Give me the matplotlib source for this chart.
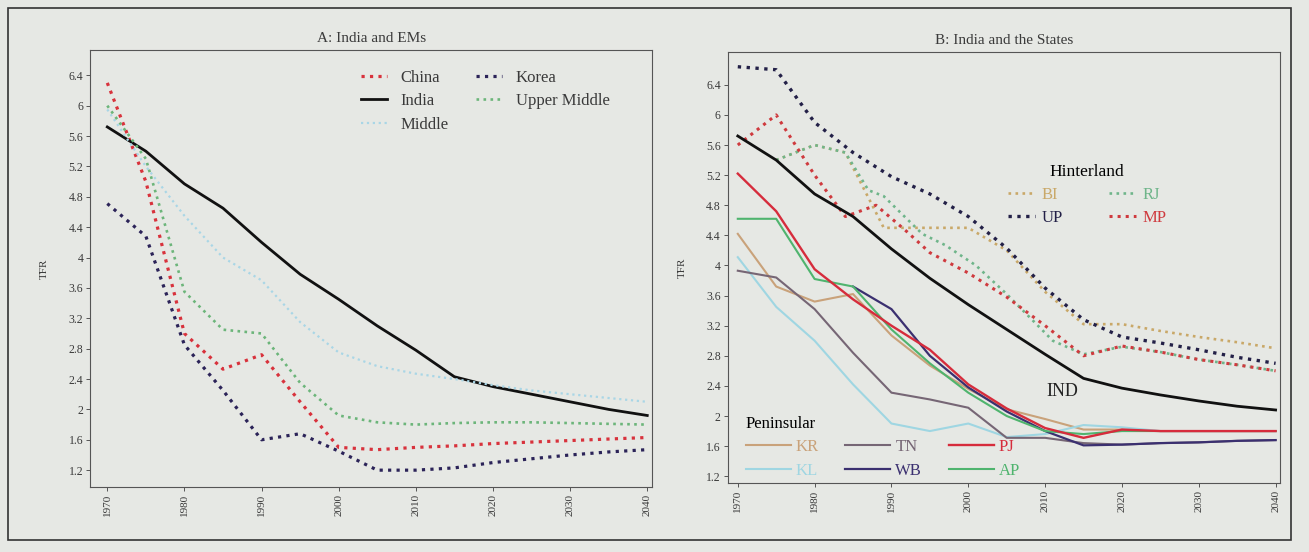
import matplotlib
matplotlib.use('Agg')
import matplotlib.pyplot as plt
from matplotlib.patches import Rectangle

plt.rcParams['font.family'] = ['Liberation Serif', 'DejaVu Serif']

# panel A: India and EMs
years_a = [1970, 1975, 1980, 1985, 1990, 1995, 2000, 2005, 2010, 2015, 2020, 2025, 2030, 2035, 2040]
india_a = [5.72, 5.40, 4.97, 4.65, 4.20, 3.78, 3.45, 3.10, 2.78, 2.43, 2.30, 2.20, 2.10, 2.00, 1.92]
china = [6.30, 5.00, 3.00, 2.53, 2.72, 2.10, 1.50, 1.47, 1.50, 1.52, 1.55, 1.57, 1.59, 1.61, 1.63]
korea = [4.71, 4.28, 2.85, 2.25, 1.60, 1.68, 1.45, 1.20, 1.20, 1.23, 1.30, 1.35, 1.40, 1.44, 1.47]
upper_middle = [6.00, 5.30, 3.55, 3.05, 3.00, 2.35, 1.92, 1.83, 1.80, 1.82, 1.83, 1.83, 1.82, 1.81, 1.80]
middle = [5.95, 5.20, 4.55, 4.00, 3.70, 3.15, 2.75, 2.57, 2.47, 2.40, 2.32, 2.25, 2.20, 2.15, 2.10]

# panel B: India and the states
years_b = [1970, 1975, 1980, 1985, 1990, 1995, 2000, 2005, 2010, 2015, 2020, 2025, 2030, 2035, 2040]
india_b = [5.72, 5.40, 4.95, 4.65, 4.22, 3.83, 3.48, 3.15, 2.82, 2.50, 2.37, 2.28, 2.20, 2.13, 2.08]

# hinterland (dotted)
up = [6.64, 6.60, 5.90, 5.50, 5.18, 4.95, 4.65, 4.23, 3.70, 3.28, 3.05, 2.97, 2.88, 2.78, 2.70]
mp_years = [1970, 1975, 1980, 1984, 1988, 1992, 1995, 2000, 2005, 2010, 2015, 2020, 2025, 2030, 2035, 2040]
mp = [5.60, 6.00, 5.20, 4.65, 4.80, 4.45, 4.17, 3.90, 3.58, 3.20, 2.80, 2.93, 2.85, 2.75, 2.68, 2.60]
bi_years = [1975, 1980, 1984, 1989, 1995, 2000, 2005, 2010, 2015, 2020, 2025, 2030, 2035, 2040]
bi = [5.40, 5.60, 5.50, 4.50, 4.50, 4.50, 4.20, 3.65, 3.22, 3.22, 3.13, 3.05, 2.98, 2.90]
rj_years = [1975, 1980, 1984, 1987, 1989, 1994, 1997, 2001, 2005, 2011, 2015, 2020, 2025, 2030, 2035, 2040]
rj = [5.40, 5.60, 5.50, 5.00, 4.92, 4.42, 4.27, 4.00, 3.62, 3.00, 2.82, 2.92, 2.85, 2.75, 2.68, 2.60]

# peninsular (solid)
kr = [4.42, 3.72, 3.52, 3.62, 3.07, 2.67, 2.36, 2.09, 1.96, 1.82, 1.82, 1.80, 1.80, 1.80, 1.80]
kl = [4.11, 3.45, 3.00, 2.42, 1.90, 1.80, 1.90, 1.72, 1.76, 1.88, 1.85, 1.80, 1.80, 1.80, 1.80]
tn = [3.93, 3.84, 3.42, 2.84, 2.31, 2.22, 2.11, 1.71, 1.71, 1.64, 1.62, 1.64, 1.65, 1.67, 1.68]
wb_years = [1985, 1990, 1995, 2000, 2005, 2010, 2015, 2020, 2025, 2030, 2035, 2040]
wb = [3.72, 3.42, 2.80, 2.38, 2.06, 1.80, 1.61, 1.62, 1.64, 1.65, 1.67, 1.68]
ap = [4.62, 4.62, 3.82, 3.72, 3.15, 2.70, 2.31, 2.00, 1.80, 1.76, 1.80, 1.80, 1.80, 1.80, 1.80]
pj = [5.22, 4.72, 3.95, 3.55, 3.20, 2.88, 2.42, 2.10, 1.84, 1.71, 1.82, 1.80, 1.80, 1.80, 1.80]

x_ticks = [1970, 1980, 1990, 2000, 2010, 2020, 2030, 2040]
y_ticks = [1.2, 1.6, 2.0, 2.4, 2.8, 3.2, 3.6, 4.0, 4.4, 4.8, 5.2, 5.6, 6.0, 6.4]

bg = '#e6e8e4'
ink = '#3a3a3a'
dot = ':'

fig = plt.figure(figsize=(13.09, 5.52), dpi=100, facecolor=bg)
fig.patches.append(Rectangle((0.006, 0.022), 0.98, 0.963, transform=fig.transFigure,
                             fill=False, edgecolor='#333333', lw=1.2))


def style_axes(ax, xlim, ylim):
	ax.set_facecolor(bg)
	ax.set_xlim(*xlim)
	ax.set_ylim(*ylim)
	ax.set_xticks(x_ticks)
	ax.set_xticklabels([str(v) for v in x_ticks], rotation=90, fontsize=8, color=ink)
	ax.set_yticks(y_ticks)
	ax.set_yticklabels(['%g' % v for v in y_ticks], fontsize=8.5, color=ink)
	ax.tick_params(length=3, width=0.7, color='#555555', pad=2)
	for s in ax.spines.values():
		s.set_color('#555555')
		s.set_linewidth(0.8)
	ax.set_ylabel('TFR', fontsize=8, color=ink, labelpad=14)


# ---- panel A
axA = fig.add_axes([0.069, 0.118, 0.429, 0.791])
style_axes(axA, (1967.8, 2040.6), (0.98, 6.73))
axA.plot(years_a, china, dot, color='#d8323c', lw=2.3, label='China')
axA.plot(years_a, india_a, '-', color='#111111', lw=2.0, label='India')
axA.plot(years_a, middle, dot, color='#a9d6e6', lw=1.6, label='Middle')
axA.plot(years_a, korea, dot, color='#2b2358', lw=2.3, label='Korea')
axA.plot(years_a, upper_middle, dot, color='#6cb57a', lw=1.9, label='Upper Middle')
axA.set_title('A: India and EMs', fontsize=11, color=ink, pad=6)
axA.legend(loc='upper left', bbox_to_anchor=(0.455, 0.99), ncol=2, frameon=False,
           fontsize=12, handlelength=1.6, columnspacing=1.6, labelspacing=0.45,
           labelcolor=ink)

# ---- panel B
axB = fig.add_axes([0.556, 0.125, 0.422, 0.78])
style_axes(axB, (1968.7, 2040.6), (1.11, 6.83))

hint = []
hint.append(axB.plot(bi_years, bi, dot, color='#c9a868', lw=1.9, label='BI')[0])
hint.append(axB.plot(years_b, up, dot, color='#232047', lw=2.4, label='UP')[0])
hint.append(axB.plot(rj_years, rj, dot, color='#6fb58a', lw=1.9, label='RJ')[0])
hint.append(axB.plot(mp_years, mp, dot, color='#cf3a3e', lw=2.2, label='MP')[0])

pen = []
pen.append(axB.plot(years_b, kr, '-', color='#c9a27a', lw=1.5, label='KR')[0])
pen.append(axB.plot(years_b, kl, '-', color='#9fd6e2', lw=1.5, label='KL')[0])
pen.append(axB.plot(years_b, tn, '-', color='#766675', lw=1.5, label='TN')[0])
pen.append(axB.plot(wb_years, wb, '-', color='#3b3070', lw=1.6, label='WB')[0])
pen.append(axB.plot(years_b, ap, '-', color='#4fb46e', lw=1.5, label='AP')[0])
pen.append(axB.plot(years_b, pj, '-', color='#d62c3c', lw=1.7, label='PJ')[0])
pen = [pen[0], pen[1], pen[2], pen[3], pen[5], pen[4]]

axB.plot(years_b, india_b, '-', color='#111111', lw=2.0)
axB.text(2010.2, 2.33, 'IND', fontsize=13, color='#222222', va='center')
axB.set_title('B: India and the States', fontsize=11, color=ink, pad=6)

legH = axB.legend(handles=hint, loc='upper left', bbox_to_anchor=(0.48, 0.775), ncol=2,
                  frameon=False, fontsize=12, title='Hinterland', title_fontsize=12.5,
                  handlelength=1.6, handletextpad=0.4, columnspacing=2.8, labelspacing=0.4,
                  labelcolor='linecolor')
axB.add_artist(legH)
legP = axB.legend(handles=pen, loc='lower left', bbox_to_anchor=(0.005, -0.025), ncol=3,
                  frameon=False, fontsize=12, title='Peninsular', title_fontsize=12,
                  handlelength=2.7, handletextpad=0.3, columnspacing=1.6, labelspacing=0.45,
                  labelcolor='linecolor')
legP._legend_box.align = 'left'

fig.savefig('out.png', dpi=100, facecolor=bg)
